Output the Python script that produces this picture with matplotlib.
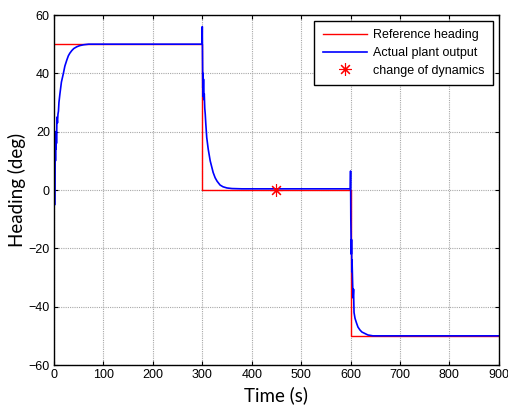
import matplotlib
matplotlib.use("Agg")
import matplotlib.pyplot as plt

# Reference heading (step signal)
ref_t = [0, 300, 300, 600, 600, 900]
ref_y = [50, 50, 0, 0, -50, -50]

# Actual plant output
act_t = [0, 2, 2.5, 3, 3.5, 4, 4.5, 5, 5.5, 6, 7, 8, 9, 10, 12, 15, 19, 22, 26, 29,
         32, 36, 40, 46, 52, 60, 70, 80, 299.5,
         300, 300.5, 301, 301.5, 302, 302.5, 303, 304, 305, 306, 307, 309, 312, 316,
         319, 322, 326, 330, 336, 342, 350, 360, 380, 599.5,
         600, 600.5, 601, 601.5, 602, 602.5, 603, 604, 605, 606, 607, 609, 612, 615,
         619, 623, 629, 635, 645, 900]
act_y = [-5, -5, 20, 10, 20, 14, 20, 16, 20, 25, 23, 26, 27, 30, 33, 37, 40, 42.5, 44.6, 46,
         46.9, 47.8, 48.5, 49.1, 49.5, 49.8, 50, 50, 50,
         56, 45, 35, 40, 32, 38, 31, 33, 28, 26, 23, 18, 14, 10,
         8, 6, 4.2, 3, 1.7, 1.1, 0.7, 0.5, 0.4, 0.4,
         6.5, -10, -16, -22, -17, -28, -24, -31, -37, -34, -42, -44, -45.6, -47,
         -48, -48.7, -49.2, -49.7, -50, -50]

# Change of dynamics marker
chg_t = [450]
chg_y = [0]

xticks = [0, 100, 200, 300, 400, 500, 600, 700, 800, 900]
yticks = [-60, -40, -20, 0, 20, 40, 60]

plt.rcParams['font.family'] = ['Liberation Sans', 'DejaVu Sans']

fig = plt.figure(figsize=(5.08, 4.11), dpi=100)
ax = fig.add_axes([0.1063, 0.1119, 0.982 - 0.1063, 0.9635 - 0.1119])

ax.plot(ref_t, ref_y, color='#ff0000', lw=1.0, label='Reference heading')
ax.plot(act_t, act_y, color='#0000ff', lw=1.2, label='Actual plant output')
ax.plot(chg_t, chg_y, linestyle='none', marker=(8, 2, 0), markersize=9,
        markeredgecolor='#ff0000', markeredgewidth=0.8, color='#ff0000',
        label='change of dynamics')

ax.set_xlim(0, 900)
ax.set_ylim(-60, 60)
ax.set_xticks(xticks)
ax.set_yticks(yticks)
ax.tick_params(direction='in', top=True, right=True, labelsize=9, length=3,
               width=0.8, pad=3)
ax.grid(True, color='#a8a8a8', linestyle=(0, (1, 1)), linewidth=0.8)
for s in ax.spines.values():
    s.set_linewidth(1.0)
    s.set_color('black')

ax.set_xlabel('Time (s)', fontsize=13.5, family=['Lato', 'DejaVu Sans'], labelpad=4)
ax.set_ylabel('Heading (deg)', fontsize=13.5, family=['Lato', 'DejaVu Sans'], labelpad=2)

leg = ax.legend(loc='upper right', fontsize=9, frameon=True, fancybox=False,
                edgecolor='black', framealpha=1, handlelength=3.5,
                handletextpad=0.5, labelspacing=0.45, borderaxespad=0.45,
                borderpad=0.7)
leg.get_frame().set_linewidth(1.0)

fig.savefig('out.png', dpi=100)
